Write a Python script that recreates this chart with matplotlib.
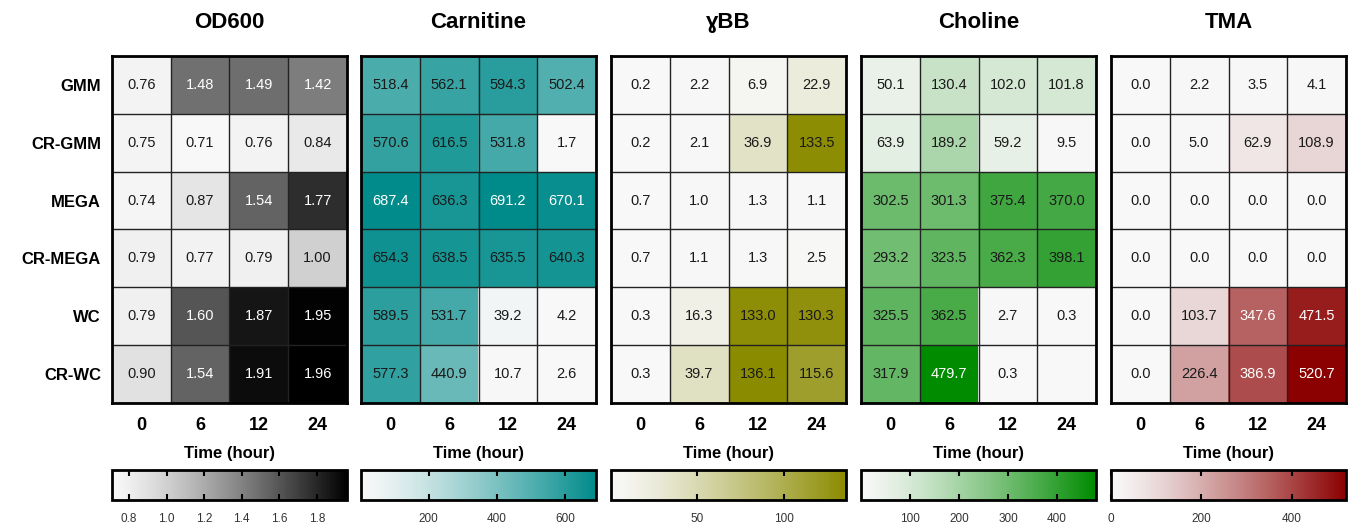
import numpy as np
import matplotlib
matplotlib.use("Agg")
import matplotlib.pyplot as plt
from matplotlib.colors import LinearSegmentedColormap, Normalize

plt.rcParams["font.family"] = ["Liberation Sans", "DejaVu Sans"]

# Data.
samples = ["GMM", "CR-GMM", "MEGA", "CR-MEGA", "WC", "CR-WC"]
times = ["0", "6", "12", "24"]

od600 = [[0.76, 1.48, 1.49, 1.42],
         [0.75, 0.71, 0.76, 0.84],
         [0.74, 0.87, 1.54, 1.77],
         [0.79, 0.77, 0.79, 1.00],
         [0.79, 1.60, 1.87, 1.95],
         [0.90, 1.54, 1.91, 1.96]]

carnitine = [[518.4, 562.1, 594.3, 502.4],
             [570.6, 616.5, 531.8, 1.7],
             [687.4, 636.3, 691.2, 670.1],
             [654.3, 638.5, 635.5, 640.3],
             [589.5, 531.7, 39.2, 4.2],
             [577.3, 440.9, 10.7, 2.6]]

gbb = [[0.2, 2.2, 6.9, 22.9],
       [0.2, 2.1, 36.9, 133.5],
       [0.7, 1.0, 1.3, 1.1],
       [0.7, 1.1, 1.3, 2.5],
       [0.3, 16.3, 133.0, 130.3],
       [0.3, 39.7, 136.1, 115.6]]

choline = [[50.1, 130.4, 102.0, 101.8],
           [63.9, 189.2, 59.2, 9.5],
           [302.5, 301.3, 375.4, 370.0],
           [293.2, 323.5, 362.3, 398.1],
           [325.5, 362.5, 2.7, 0.3],
           [317.9, 479.7, 0.3, np.nan]]

tma = [[0.0, 2.2, 3.5, 4.1],
       [0.0, 5.0, 62.9, 108.9],
       [0.0, 0.0, 0.0, 0.0],
       [0.0, 0.0, 0.0, 0.0],
       [0.0, 103.7, 347.6, 471.5],
       [0.0, 226.4, 386.9, 520.7]]

titles = ["OD600", "\u0043arnitine", "\u0263BB", "Choline", "TMA"]
datasets = [od600, carnitine, gbb, choline, tma]
end_colors = ["#000000", "#008b8b", "#8b8b00", "#008b00", "#8b0000"]
fmts = ["{:.2f}", "{:.1f}", "{:.1f}", "{:.1f}", "{:.1f}"]
white_thr = [0.5, 0.96, 1.01, 0.9, 0.55]  # normalised value above which labels turn white
cbar_ticks = [[0.8, 1.0, 1.2, 1.4, 1.6, 1.8],
              [200, 400, 600],
              [50, 100],
              [100, 200, 300, 400],
              [0, 200, 400]]

W, H = 1348, 527
fig = plt.figure(figsize=(W / 100, H / 100), dpi=100)

lefts = [112, 361, 611, 861, 1111]
pw = 235
for k in range(5):
    data = np.array(datasets[k], dtype=float)
    cmap = LinearSegmentedColormap.from_list("c%d" % k, ["#f8f8f8", end_colors[k]],
                                             gamma=1.25)
    cmap.set_bad("#f8f8f8")
    vmin, vmax = np.nanmin(data), np.nanmax(data)
    norm = Normalize(vmin, vmax)

    ax = fig.add_axes([lefts[k] / W, 1 - 403 / H, pw / W, (403 - 56) / H])
    ax.imshow(np.ma.masked_invalid(data), cmap=cmap, norm=norm, aspect="auto")
    for i in range(data.shape[0]):
        for j in range(data.shape[1]):
            v = data[i, j]
            if np.isnan(v):
                continue
            c = "white" if norm(v) > white_thr[k] else "#1a1a1a"
            ax.text(j, i, fmts[k].format(v), ha="center", va="center",
                    fontsize=10.5, color=c)
    # cell borders
    for x in np.arange(-0.5, 4, 1):
        ax.axvline(x, color="#222222", lw=1.0)
    for y in np.arange(-0.5, 6, 1):
        ax.axhline(y, color="#222222", lw=1.0)
    for s in ax.spines.values():
        s.set_linewidth(2)
        s.set_color("black")
    ax.set_xticks(range(4))
    ax.set_xticklabels(times, fontsize=13, fontweight="bold")
    ax.tick_params(length=0, pad=10)
    ax.set_xlabel("Time (hour)", fontsize=12, fontweight="bold", labelpad=9)
    if k == 0:
        ax.set_yticks(range(6))
        ax.set_yticklabels(samples, fontsize=12, fontweight="bold")
        ax.tick_params(axis="y", pad=8)
    else:
        ax.set_yticks([])
    ax.set_title(titles[k], fontsize=16, fontweight="bold", pad=20)

    cax = fig.add_axes([lefts[k] / W, 1 - 500 / H, pw / W, 30 / H])
    cb = fig.colorbar(plt.cm.ScalarMappable(norm=norm, cmap=cmap), cax=cax,
                      orientation="horizontal")
    cb.set_ticks(cbar_ticks[k])
    if k == 0:
        cb.set_ticklabels(["%.1f" % t for t in cbar_ticks[k]])
    cb.outline.set_linewidth(2)
    cax.tick_params(axis="x", direction="in", length=4, width=1.5,
                    top=True, bottom=True, labelsize=8.5, pad=9, colors="black")
    for lab in cax.get_xticklabels():
        lab.set_color("#333333")

fig.savefig("out.png", dpi=100)
